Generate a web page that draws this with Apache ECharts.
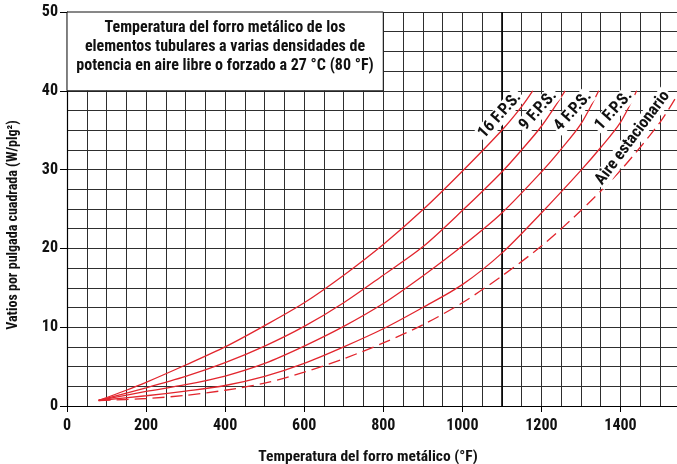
<!DOCTYPE html>
<html>
<head>
<meta charset="utf-8">
<script src="https://cdn.jsdelivr.net/npm/echarts@6/dist/echarts.min.js"></script>
<style>
  html, body { margin: 0; padding: 0; background: #fff; }
  #chart { width: 677px; height: 464px; }
</style>
</head>
<body>
<div id="chart"></div>
<script>
// Sheath temperature (°F) vs. watt density (W/in²) for tubular elements
const xTickLabels = [0, 200, 400, 600, 800, 1000, 1200, 1400];
const yTickLabels = [0, 10, 20, 30, 40, 50];

const curveNames = ['16 F.P.S.', '9 F.P.S.', '4 F.P.S.', '1 F.P.S.', 'Aire estacionario'];

// [temperature °F, watts per square inch]
const fps16 = [[80, 0.7], [150, 2.0], [200, 3.0], [300, 5.2], [400, 7.5], [500, 10.2], [600, 13.1],
  [700, 16.6], [800, 20.5], [900, 24.9], [1000, 29.8], [1100, 35.0], [1150, 38.0], [1178, 40]];
const fps9 = [[80, 0.7], [200, 2.3], [300, 3.75], [400, 5.5], [500, 7.6], [600, 10.1], [700, 13.1],
  [800, 16.6], [900, 20.2], [1000, 24.8], [1100, 29.7], [1150, 32.5], [1200, 35.5], [1260, 40]];
const fps4 = [[80, 0.7], [200, 1.85], [300, 2.7], [400, 3.8], [500, 5.4], [600, 7.6], [700, 10.1],
  [800, 13.0], [900, 16.5], [1000, 20.3], [1100, 24.5], [1200, 29.7], [1250, 32.6], [1300, 35.8], [1345, 40]];
const fps1 = [[80, 0.7], [200, 1.3], [300, 1.9], [400, 2.6], [500, 3.75], [600, 5.4], [700, 7.5],
  [800, 9.8], [900, 12.5], [1000, 15.4], [1100, 19.4], [1200, 24.5], [1300, 29.9], [1350, 32.8], [1400, 36.0], [1441, 40]];
const stillAir = [[80, 0.7], [200, 0.95], [300, 1.35], [400, 2.0], [500, 2.9], [600, 4.3], [700, 6.0],
  [800, 8.0], [900, 10.3], [1000, 13.1], [1100, 16.5], [1200, 20.3], [1300, 24.8], [1400, 29.9], [1500, 36.0], [1543, 39.4]];

const titleLines = [
  'Temperatura del forro metálico de los',
  'elementos tubulares a varias densidades de',
  'potencia en aire libre o forzado a 27 °C (80 °F)'
];
const xTitle = 'Temperatura del forro metálico (°F)';
const yTitle = 'Vatios por pulgada cuadrada (W/plg²)';

const FONT = "'Roboto Condensed', 'DejaVu Sans Condensed', sans-serif";
const RED = '#e2262e';
const GRID = '#2e2e2e';

const chart = echarts.init(document.getElementById('chart'), null, { renderer: 'canvas' });

function curve(name, data, dashed, labelCoord, labelRotate) {
  return {
    type: 'line',
    name: name,
    data: data,
    xAxisIndex: 0,
    yAxisIndex: 0,
    symbol: 'none',
    showSymbol: false,
    smooth: 0.3,
    silent: true,
    z: 2,
    lineStyle: { color: RED, width: 1.3, type: dashed ? [12, 6] : 'solid' },
    markPoint: {
      z: 10,
      silent: true,
      symbol: 'rect',
      symbolSize: 1,
      itemStyle: { color: 'rgba(0,0,0,0)' },
      label: {
        show: true,
        position: 'inside',
        formatter: name,
        rotate: labelRotate,
        backgroundColor: '#fff',
        padding: [0, 2, 0, 2],
        color: '#111',
        fontFamily: FONT,
        fontWeight: 'bold',
        fontSize: 16.5
      },
      data: [{ coord: labelCoord }]
    }
  };
}

const series = [
  curve(curveNames[0], fps16, false, [1095, 36.9], 48),
  curve(curveNames[1], fps9, false, [1192, 37.5], 48),
  curve(curveNames[2], fps4, false, [1280, 37.4], 48),
  curve(curveNames[3], fps1, false, [1383, 37.5], 48),
  curve(curveNames[4], stillAir, true, [1431, 34.0], 53)
];

// White title box in the upper-left corner of the grid
series[0].markArea = {
  z: 1,
  silent: true,
  itemStyle: { color: '#fff', borderColor: '#111', borderWidth: 1 },
  label: { show: false },
  data: [[{ xAxis: 0, yAxis: 40 }, { xAxis: 800, yAxis: 50 }]]
};

// Heavier rule at 1100 °F
series[0].markLine = {
  z: 1,
  silent: true,
  symbol: 'none',
  label: { show: false },
  lineStyle: { color: '#000', width: 1.6, type: 'solid' },
  data: [{ xAxis: 1100 }]
};

const labelFont = { color: '#111', fontFamily: FONT, fontWeight: 'bold', fontSize: 16 };

chart.setOption({
  animation: false,
  backgroundColor: '#fff',
  grid: { left: 67, right: 0, top: 12, bottom: 58, containLabel: false },
  xAxis: [
    {
      // fine 50 °F grid
      type: 'value', min: 0, max: 1543, interval: 50,
      axisLine: { show: true, lineStyle: { color: '#000', width: 1.2 } },
      axisTick: { show: false },
      axisLabel: { show: false },
      splitLine: { show: true, lineStyle: { color: GRID, width: 1 } }
    },
    {
      // labelled scale every 200 °F
      type: 'value', min: 0, max: 1543, interval: 200, position: 'bottom',
      axisLine: { show: false },
      axisTick: { show: true, customValues: xTickLabels, length: 6, lineStyle: { color: '#000', width: 1 } },
      axisLabel: Object.assign({ customValues: xTickLabels, margin: 12, formatter: v => String(v) }, labelFont),
      splitLine: { show: false }
    }
  ],
  yAxis: [
    {
      type: 'value', min: 0, max: 50, interval: 2.5,
      axisLine: { show: true, lineStyle: { color: '#000', width: 1.2 } },
      axisTick: { show: false },
      axisLabel: { show: false },
      splitLine: { show: true, lineStyle: { color: GRID, width: 1 } }
    },
    {
      type: 'value', min: 0, max: 50, interval: 10, position: 'left',
      axisLine: { show: false },
      axisTick: { show: true, customValues: yTickLabels, length: 7, lineStyle: { color: '#000', width: 1 } },
      axisLabel: Object.assign({ customValues: yTickLabels, margin: 9, formatter: v => String(v) }, labelFont),
      splitLine: { show: false }
    }
  ],
  graphic: [
    {
      type: 'text',
      x: 225,
      y: 47,
      z: 20,
      style: {
        text: titleLines.join('\n'),
        textAlign: 'center',
        textVerticalAlign: 'middle',
        font: 'bold 16px ' + FONT,
        lineHeight: 19,
        fill: '#111'
      }
    },
    {
      type: 'text',
      x: 368,
      y: 457,
      style: { text: xTitle, textAlign: 'center', textVerticalAlign: 'middle', font: 'bold 15.5px ' + FONT, fill: '#111' }
    },
    {
      type: 'text',
      x: 13,
      y: 225,
      rotation: Math.PI / 2,
      style: { text: yTitle, textAlign: 'center', textVerticalAlign: 'middle', font: 'bold 14px ' + FONT, fill: '#111' }
    }
  ],
  series: series
});
</script>
</body>
</html>
